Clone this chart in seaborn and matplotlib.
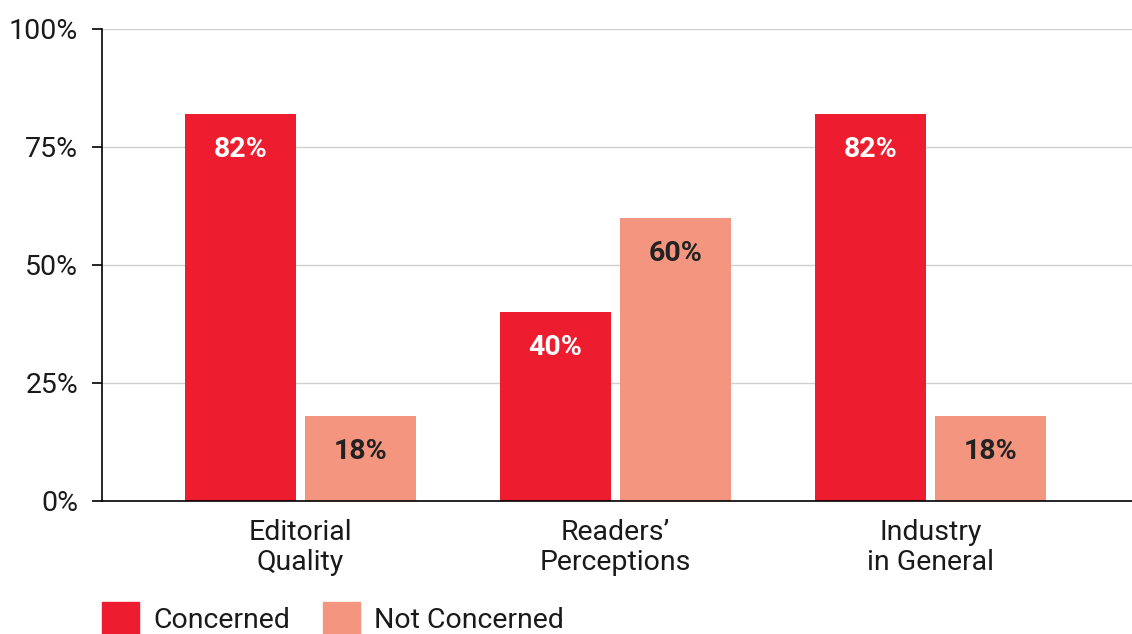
import numpy as np
import pandas as pd
import matplotlib.pyplot as plt
import seaborn as sns

# Chart values
categories = ["Editorial\nQuality", "Readers’\nPerceptions", "Industry\nin General"]
series = ["Concerned", "Not Concerned"]
concerned = [82, 40, 82]
not_concerned = [18, 60, 18]
y_ticks = [0, 25, 50, 75, 100]

colors = {"Concerned": "#ED1C2E", "Not Concerned": "#F4967F"}
label_colors = {"Concerned": "white", "Not Concerned": "#222222"}

df = pd.DataFrame({
    "Category": categories * 2,
    "Series": [series[0]] * 3 + [series[1]] * 3,
    "Value": concerned + not_concerned,
})

sns.set_style("white")
plt.rcParams["font.family"] = ["Roboto", "DejaVu Sans"]
plt.rcParams["text.color"] = "#1a1a1a"

fig = plt.figure(figsize=(11.32, 6.34), dpi=100)
ax = fig.add_axes([0.0901, 0.2098, 0.9099, 0.7445])

sns.barplot(data=df, x="Category", y="Value", hue="Series", hue_order=series,
            palette=colors, width=0.765, gap=0.08, saturation=1,
            linewidth=0, legend=False, ax=ax)

ax.set_xlim(-0.63, 2.64)
ax.set_ylim(0, 100)
ax.set_yticks(y_ticks)
ax.set_yticklabels([f"{t}%" for t in y_ticks])
ax.set_xlabel("")
ax.set_ylabel("")
ax.grid(axis="y", color="#d0d0d0", linewidth=1)
ax.set_axisbelow(True)

for s in ["top", "right"]:
    ax.spines[s].set_visible(False)
for s in ["left", "bottom"]:
    ax.spines[s].set_color("black")
    ax.spines[s].set_linewidth(1.2)

ax.tick_params(axis="y", length=7.2, width=1.2, color="black", labelsize=20.5,
               labelcolor="#1a1a1a", pad=10, left=True)
ax.tick_params(axis="x", length=0, labelsize=20.5, labelcolor="#1a1a1a", pad=13)
for lbl in ax.get_xticklabels():
    lbl.set_linespacing(1.12)

# value labels inside bars
for name, cont in zip(series, ax.containers):
    for bar in cont:
        h = bar.get_height()
        ax.annotate(f"{h:.0f}%", xy=(bar.get_x() + bar.get_width() / 2, h),
                    xytext=(0, -25.5), textcoords="offset points",
                    ha="center", va="center", fontsize=20.5, fontweight="bold",
                    color=label_colors[name])

handles = [plt.Rectangle((0, 0), 1, 1, color=colors[s]) for s in series]
fig.legend(handles, series, loc="upper left", bbox_to_anchor=(0.0901, 0.0505),
           ncol=2, frameon=False, fontsize=20.5, handlelength=1.3,
           handleheight=1.45, handletextpad=0.5, columnspacing=1.15,
           borderaxespad=0, borderpad=0)

fig.savefig("out.png", dpi=100)
